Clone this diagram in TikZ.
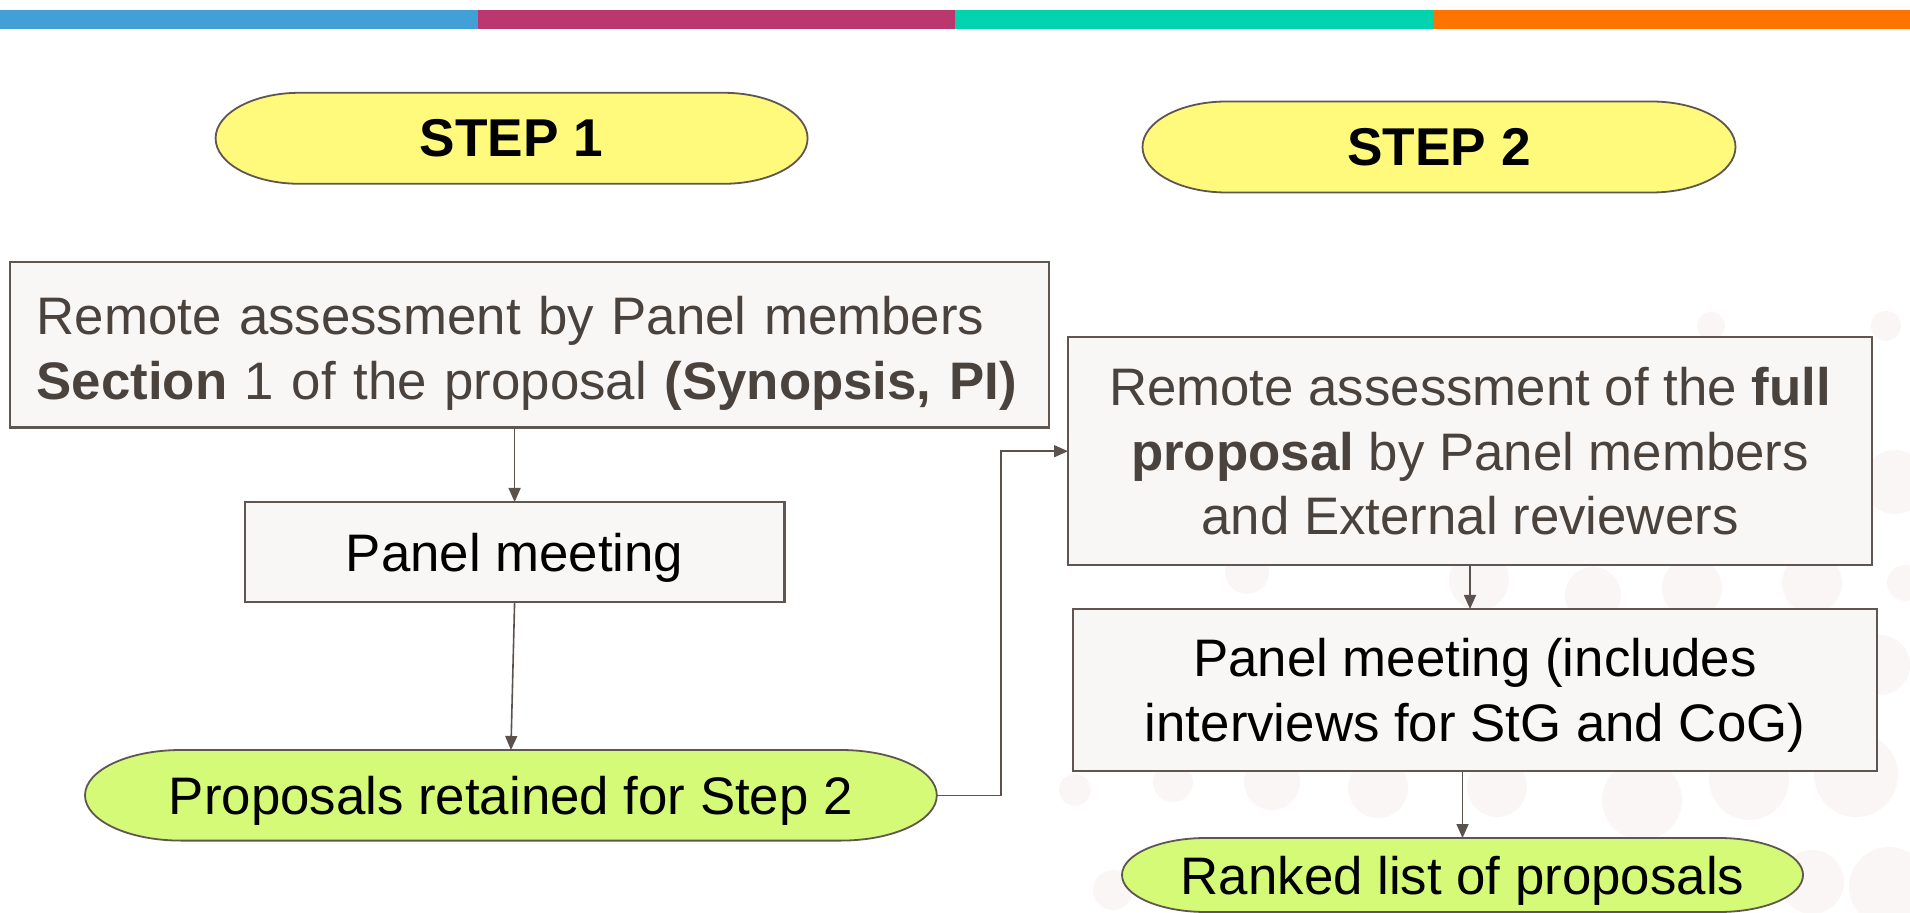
\documentclass[tikz,border=0pt]{standalone}
\usepackage{fontspec}
\setmainfont{Liberation Sans}
\usetikzlibrary{arrows.meta,calc}
\pgfdeclarelayer{dots}
\pgfdeclarelayer{background}
\pgfsetlayers{dots,background,main}
\definecolor{barblue}{HTML}{42A0D6}
\definecolor{barmag}{HTML}{BA386E}
\definecolor{barteal}{HTML}{00D3AE}
\definecolor{barorange}{HTML}{FF7300}
\definecolor{boxfill}{HTML}{F9F7F6}
\definecolor{boxedge}{HTML}{5F5652}
\definecolor{txtdark}{HTML}{4A423D}
\definecolor{yel}{HTML}{FFFA7B}
\definecolor{grn}{HTML}{D4FA78}
\definecolor{arrowc}{HTML}{5B524E}
\definecolor{dotc}{HTML}{FAF6F5}
\newcommand{\stadium}[4]{%
  \path[draw=boxedge, line width=0.9pt, fill=#2]
    ($(#1.north west)+(#3,0pt)$) -- ($(#1.north east)-(#3,0pt)$)
    arc[start angle=90,end angle=-90,x radius=#3,y radius=#4]
    -- ($(#1.south west)+(#3,0pt)$)
    arc[start angle=270,end angle=90,x radius=#3,y radius=#4] -- cycle;}
\tikzset{
  bigfont/.style={font=\fontsize{26.4pt}{32.2pt}\selectfont},
  boxbase/.style={bigfont, draw=boxedge, line width=1.1pt, fill=boxfill, outer sep=0pt, inner sep=0pt},
  box/.style={boxbase, align=center, text depth=0pt},
  stad/.style={bigfont, outer sep=0pt, inner sep=0pt, align=center, text=black, text depth=0pt},
  arr/.style={draw=arrowc, line width=0.8pt, -{Triangle[length=7pt,width=6pt]}},
  dot/.style={fill=dotc, draw=none}
}
\begin{document}
\begin{tikzpicture}[x=0.5pt,y=-0.5pt]
\useasboundingbox (0,0) rectangle (1910,913);
% top bar
\fill[barblue] (0,10) rectangle (477.5,29);
\fill[barmag] (477.5,10) rectangle (955,29);
\fill[barteal] (955,10) rectangle (1432.5,29);
\fill[barorange] (1432.5,10) rectangle (1910,29);
% background dots
\begin{pgfonlayer}{dots}
\foreach \cx/\cy/\r in {1711/326/14, 1886/326/15,
  1247/572/22, 1479/580/30, 1593/595/28, 1692/588/30, 1812/583/30, 1895/482/32, 1905/583/18,
  1880/665/30,
  1075/790/16, 1173/782/20, 1272/782/28, 1378/788/30, 1497/787/30, 1642/800/40, 1749/780/40, 1856/775/42,
  1113/890/20, 1812/882/32, 1889/887/40}
  \fill[dot] (\cx,\cy) circle[radius=\r*0.5pt];
\end{pgfonlayer}
% step headers
\node[stad, minimum width=296pt, minimum height=45.5pt, font=\fontsize{26.6pt}{32pt}\selectfont\bfseries] (s1) at (511.6,138.3) {STEP 1};
\node[stad, minimum width=296.5pt, minimum height=45.5pt, font=\fontsize{26.6pt}{32pt}\selectfont\bfseries] (s2) at (1439,147) {STEP 2};
% step 1 column
\node[boxbase, text=txtdark, align=left, text width=492.7pt, inner xsep=13.4pt, minimum height=82.8pt] (rem1) at (529.3,344.8)
  {\mbox{\rule{0pt}{27.6pt}Remote assessment by Panel members}\\\mbox{\textbf{Section} 1 of the proposal \textbf{(Synopsis, PI)}}};
\node[box, text=black, minimum width=269.8pt, minimum height=49.9pt] (pm1) at (514.6,551.9) {Panel meeting};
\node[stad, minimum width=425.9pt, minimum height=45.3pt] (prop) at (510.9,795.3) {Proposals retained for Step 2};
% step 2 column
\node[box, text=txtdark, minimum width=402pt, minimum height=113.8pt] (rem2) at (1470,451.2)
  {Remote assessment of the \textbf{full}\\\textbf{proposal} by Panel members\\and External reviewers};
\node[box, text=black, minimum width=402pt, minimum height=81pt] (pm2) at (1475,690)
  {Panel meeting (includes\\interviews for StG and CoG)};
\node[stad, minimum width=340.5pt, minimum height=37pt] (rank) at (1462.5,875) {Ranked list of proposals};
% stadium outlines
\begin{pgfonlayer}{background}
\stadium{s1}{yel}{42pt}{22.75pt}
\stadium{s2}{yel}{42pt}{22.75pt}
\stadium{prop}{grn}{48pt}{22.65pt}
\stadium{rank}{grn}{42pt}{18.5pt}
\end{pgfonlayer}
% connectors
\coordinate (bend) at (1001,795.3);
\draw[arr] (pm1.north |- rem1.south) -- (pm1.north);
\draw[arr] (pm1.south) -- (prop.north);
\draw[arr] (prop.east) -- (bend) |- (rem2.west);
\draw[arr] (rem2.south) -- (rem2.south |- pm2.north);
\draw[arr] (rank.north |- pm2.south) -- (rank.north);
\end{tikzpicture}
\end{document}
